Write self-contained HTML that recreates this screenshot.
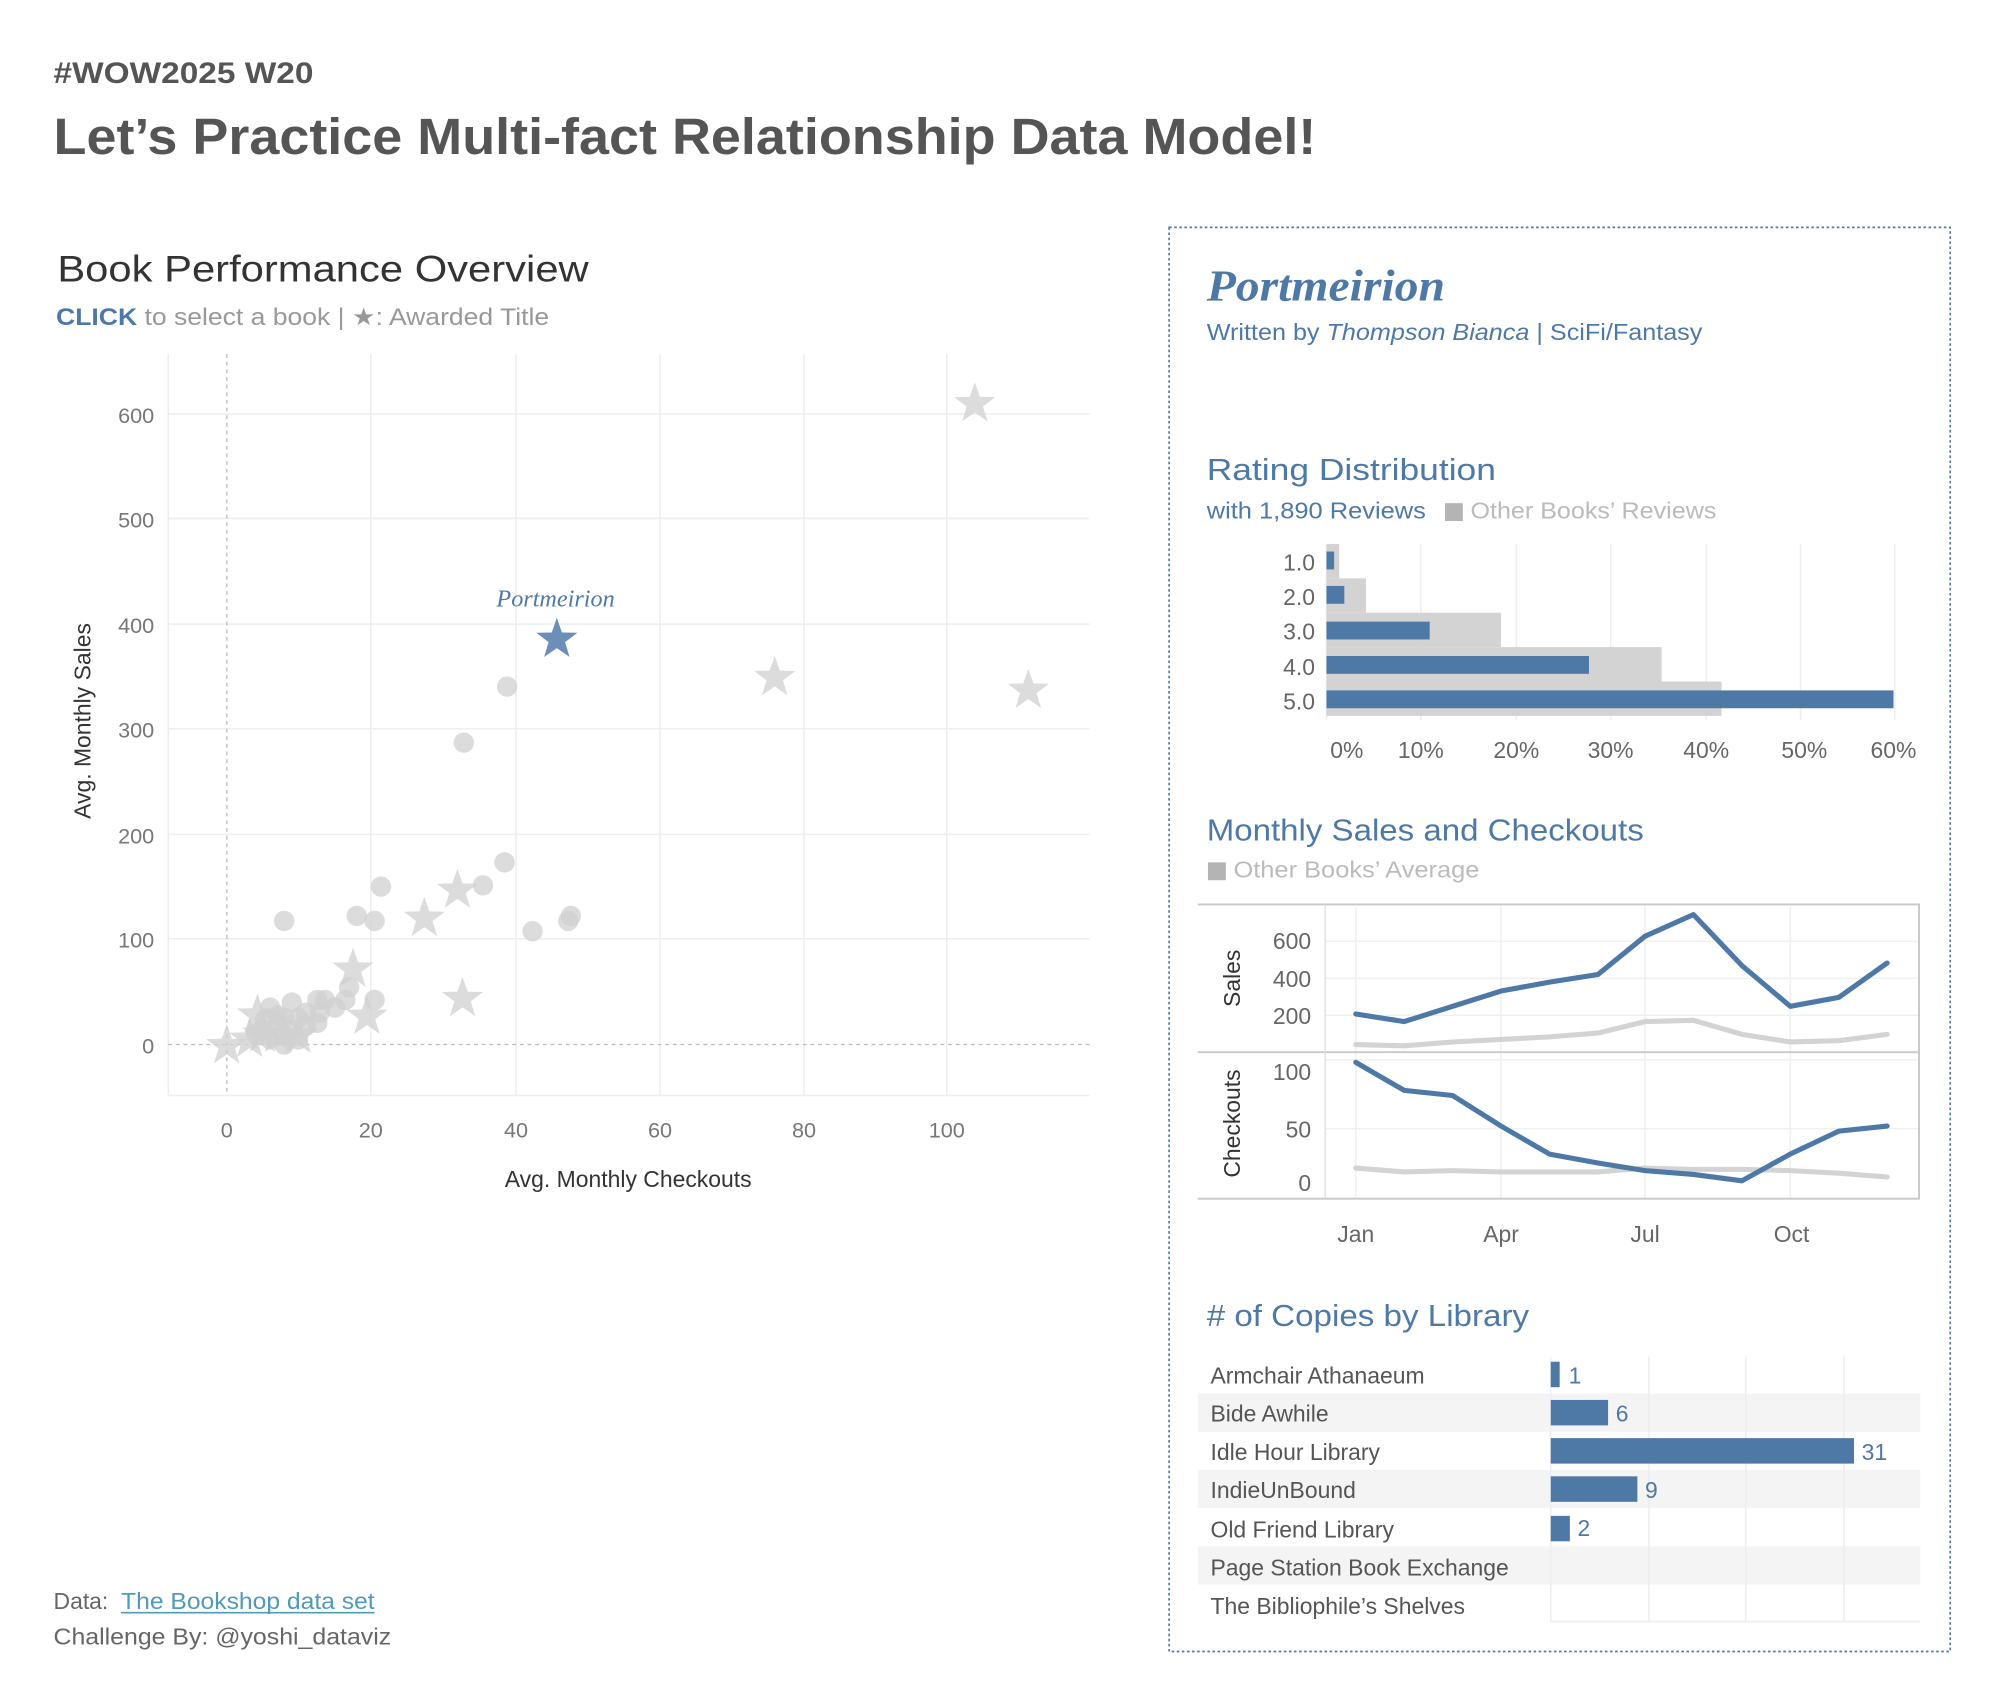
<!DOCTYPE html>
<html><head><meta charset="utf-8"><style>
html,body{margin:0;padding:0;background:#fff;}
svg{display:block;}
text{font-family:"Liberation Sans",sans-serif;}
</style></head><body>
<svg width="1998" height="1698" viewBox="0 0 1568 1333" preserveAspectRatio="none" xmlns="http://www.w3.org/2000/svg">
<defs>
<path id="st" d="M0,-1 L0.235,-0.324 0.951,-0.309 0.380,0.124 0.588,0.809 0,0.4 -0.588,0.809 -0.380,0.124 -0.951,-0.309 -0.235,-0.324Z"/>
</defs>
<rect width="1568" height="1333" fill="#fff"/>
<!-- header -->
<text x="42" y="65" font-size="23" font-weight="bold" fill="#555" textLength="204" lengthAdjust="spacingAndGlyphs">#WOW2025 W20</text>
<text x="42" y="121" font-size="40" font-weight="bold" fill="#555" textLength="991" lengthAdjust="spacingAndGlyphs">Let’s Practice Multi-fact Relationship Data Model!</text>

<!-- scatter -->
<text x="45" y="221" font-size="29" fill="#333" textLength="417" lengthAdjust="spacingAndGlyphs">Book Performance Overview</text>
<text x="44" y="255" font-size="19" fill="#999" textLength="387" lengthAdjust="spacingAndGlyphs"><tspan fill="#4e79a7" font-weight="bold">CLICK</tspan> to select a book | ★: Awarded Title</text>
<g stroke="#eeeeee" stroke-width="1.2">
<line x1="132" y1="278" x2="132" y2="860"/>
<line x1="291" y1="278" x2="291" y2="860"/>
<line x1="405" y1="278" x2="405" y2="860"/>
<line x1="518" y1="278" x2="518" y2="860"/>
<line x1="631" y1="278" x2="631" y2="860"/>
<line x1="743" y1="278" x2="743" y2="860"/>
<line x1="132" y1="325" x2="855" y2="325"/>
<line x1="132" y1="407" x2="855" y2="407"/>
<line x1="132" y1="490" x2="855" y2="490"/>
<line x1="132" y1="572" x2="855" y2="572"/>
<line x1="132" y1="655" x2="855" y2="655"/>
<line x1="132" y1="737" x2="855" y2="737"/>
<line x1="132" y1="860" x2="855" y2="860"/>
</g>
<line x1="178" y1="278" x2="178" y2="860" stroke="#bbb" stroke-dasharray="3,3"/>
<line x1="132" y1="820" x2="855" y2="820" stroke="#bbb" stroke-dasharray="3,3"/>
<g font-size="17" fill="#777" text-anchor="end">
<text x="121" y="332">600</text><text x="121" y="414">500</text><text x="121" y="497">400</text>
<text x="121" y="579">300</text><text x="121" y="662">200</text><text x="121" y="744">100</text><text x="121" y="827">0</text>
</g>
<g font-size="17" fill="#777" text-anchor="middle">
<text x="178" y="893">0</text><text x="291" y="893">20</text><text x="405" y="893">40</text>
<text x="518" y="893">60</text><text x="631" y="893">80</text><text x="743" y="893">100</text>
</g>
<text x="493" y="932" font-size="18" fill="#333" text-anchor="middle">Avg. Monthly Checkouts</text>
<text transform="translate(71,566) rotate(-90)" font-size="18" fill="#333" text-anchor="middle">Avg. Monthly Sales</text>
<g fill="#d0d0d0" fill-opacity="0.75">
<circle cx="398" cy="539" r="8"/><circle cx="364" cy="583" r="8"/><circle cx="299" cy="696" r="8"/>
<circle cx="396" cy="677" r="8"/><circle cx="379" cy="695" r="8"/><circle cx="223" cy="723" r="8"/>
<circle cx="280" cy="719" r="8"/><circle cx="294" cy="723" r="8"/><circle cx="418" cy="731" r="8"/>
<circle cx="446" cy="723" r="8"/><circle cx="448" cy="719" r="8"/><circle cx="271" cy="785" r="8"/>
<circle cx="274" cy="775" r="8"/><circle cx="294" cy="785" r="8"/><circle cx="249" cy="785" r="8"/>
<circle cx="255" cy="785" r="8"/><circle cx="229" cy="787" r="8"/><circle cx="212" cy="791" r="8"/>
<circle cx="249" cy="803" r="8"/><circle cx="251" cy="795" r="8"/><circle cx="223" cy="820" r="8"/>
<circle cx="206" cy="808" r="8"/><circle cx="218" cy="803" r="8"/><circle cx="223" cy="799" r="8"/>
<circle cx="229" cy="808" r="8"/><circle cx="234" cy="799" r="8"/><circle cx="240" cy="805" r="8"/>
<circle cx="212" cy="816" r="8"/><circle cx="218" cy="797" r="8"/><circle cx="201" cy="812" r="8"/>
<circle cx="223" cy="813" r="8"/><circle cx="234" cy="816" r="8"/><circle cx="240" cy="795" r="8"/>
<circle cx="263" cy="791" r="8"/><circle cx="208" cy="800" r="8"/>
<use href="#st" transform="translate(765,317) scale(17)"/>
<use href="#st" transform="translate(608,532) scale(17)"/>
<use href="#st" transform="translate(807,542) scale(17)"/>
<use href="#st" transform="translate(359,699) scale(17)"/>
<use href="#st" transform="translate(333,721) scale(17)"/>
<use href="#st" transform="translate(277,761) scale(17)"/>
<use href="#st" transform="translate(288,798) scale(17)"/>
<use href="#st" transform="translate(363,784) scale(17)"/>
<use href="#st" transform="translate(178,821) scale(17)"/>
<use href="#st" transform="translate(196,816) scale(17)"/>
<use href="#st" transform="translate(202,797) scale(17)"/>
<use href="#st" transform="translate(218,812) scale(17)"/>
<use href="#st" transform="translate(234,813) scale(17)"/>
<use href="#st" transform="translate(206,812) scale(17)"/>
</g>
<use href="#st" transform="translate(437,502) scale(17)" fill="#6b8fb8"/>
<text x="436" y="476" font-size="19" font-style="italic" fill="#4e79a7" text-anchor="middle" style="font-family:'Liberation Serif',serif">Portmeirion</text>

<!-- footer -->
<text x="42" y="1263" font-size="18" fill="#666">Data: </text>
<text x="95" y="1263" font-size="18" fill="#4f9bb8" textLength="199" lengthAdjust="spacingAndGlyphs">The Bookshop data set</text>
<line x1="95" y1="1266" x2="294" y2="1266" stroke="#4f9bb8" stroke-width="1.3"/>
<text x="42" y="1291" font-size="18" fill="#666" textLength="265" lengthAdjust="spacingAndGlyphs">Challenge By: @yoshi_dataviz</text>

<!-- right panel -->
<rect x="917.5" y="178.5" width="613" height="1118" fill="none" stroke="#4e79a7" stroke-width="1.3" stroke-dasharray="2,2"/>
<text x="947" y="236" font-size="35" font-weight="bold" font-style="italic" fill="#4e79a7" style="font-family:'Liberation Serif',serif" textLength="187" lengthAdjust="spacingAndGlyphs">Portmeirion</text>
<text x="947" y="267" font-size="18" fill="#4e79a7" textLength="389" lengthAdjust="spacingAndGlyphs">Written by <tspan font-style="italic">Thompson Bianca</tspan> | SciFi/Fantasy</text>

<text x="947" y="377" font-size="24" fill="#4e79a7" textLength="227" lengthAdjust="spacingAndGlyphs">Rating Distribution</text>
<text x="947" y="407" font-size="18" fill="#4e79a7" textLength="172" lengthAdjust="spacingAndGlyphs">with 1,890 Reviews</text>
<rect x="1134" y="395" width="14" height="14" fill="#b4b4b4"/>
<text x="1154" y="407" font-size="18" fill="#bbb" textLength="193" lengthAdjust="spacingAndGlyphs">Other Books’ Reviews</text>
<g stroke="#eeeeee" stroke-width="1.2">
<line x1="1041" y1="427" x2="1041" y2="565"/><line x1="1115" y1="427" x2="1115" y2="565"/>
<line x1="1190" y1="427" x2="1190" y2="565"/><line x1="1264" y1="427" x2="1264" y2="565"/>
<line x1="1339" y1="427" x2="1339" y2="565"/><line x1="1413" y1="427" x2="1413" y2="565"/>
<line x1="1487" y1="427" x2="1487" y2="565"/>
</g>
<g fill="#d3d3d3">
<rect x="1041" y="427" width="10" height="27"/><rect x="1041" y="454" width="31" height="27"/>
<rect x="1041" y="481" width="137" height="27"/><rect x="1041" y="508" width="263" height="27"/>
<rect x="1041" y="535" width="310" height="27"/>
</g>
<g fill="#4e79a7">
<rect x="1041" y="433" width="6" height="14"/><rect x="1041" y="460" width="14" height="14"/>
<rect x="1041" y="488" width="81" height="14"/><rect x="1041" y="515" width="206" height="14"/>
<rect x="1041" y="542" width="445" height="14"/>
</g>
<g font-size="18" fill="#666" text-anchor="end">
<text x="1032" y="448">1.0</text><text x="1032" y="475">2.0</text><text x="1032" y="502">3.0</text>
<text x="1032" y="530">4.0</text><text x="1032" y="557">5.0</text>
</g>
<g font-size="18" fill="#666" text-anchor="middle">
<text x="1057" y="595">0%</text><text x="1115" y="595">10%</text><text x="1190" y="595">20%</text>
<text x="1264" y="595">30%</text><text x="1339" y="595">40%</text><text x="1416" y="595">50%</text><text x="1486" y="595">60%</text>
</g>

<text x="947" y="660" font-size="24" fill="#4e79a7" textLength="343" lengthAdjust="spacingAndGlyphs">Monthly Sales and Checkouts</text>
<rect x="948" y="677" width="14" height="14" fill="#b4b4b4"/>
<text x="968" y="689" font-size="18" fill="#bbb" textLength="193" lengthAdjust="spacingAndGlyphs">Other Books’ Average</text>
<g stroke="#f0f0f0" stroke-width="1.2">
<line x1="1064" y1="712" x2="1064" y2="941"/><line x1="1178" y1="712" x2="1178" y2="941"/>
<line x1="1291" y1="712" x2="1291" y2="941"/><line x1="1405" y1="712" x2="1405" y2="941"/>
<line x1="1040" y1="739" x2="1506" y2="739"/><line x1="1040" y1="768" x2="1506" y2="768"/>
<line x1="1040" y1="797" x2="1506" y2="797"/>
<line x1="1040" y1="832" x2="1506" y2="832"/><line x1="1040" y1="886" x2="1506" y2="886"/>
</g>
<g fill="none" stroke="#c8c8c8" stroke-width="1.5">
<polyline points="940,710 1506,710 1506,941 940,941"/>
<line x1="940" y1="826" x2="1506" y2="826"/>
<line x1="1040" y1="710" x2="1040" y2="941" stroke="#ddd" stroke-width="1"/>
</g>
<g font-size="18" fill="#666" text-anchor="end">
<text x="1029" y="745">600</text><text x="1029" y="775">400</text><text x="1029" y="804">200</text>
<text x="1029" y="848">100</text><text x="1029" y="893">50</text><text x="1029" y="935">0</text>
</g>
<text transform="translate(973,768) rotate(-90)" font-size="18" fill="#333" text-anchor="middle">Sales</text>
<text transform="translate(973,882) rotate(-90)" font-size="18" fill="#333" text-anchor="middle">Checkouts</text>
<g fill="none" stroke-width="4" stroke-linejoin="round" stroke-linecap="round">
<polyline stroke="#d3d3d3" points="1064,820 1102,821 1140,818 1178,816 1216,814 1254,811 1291,802 1329,801 1367,812 1405,818 1443,817 1481,812"/>
<polyline stroke="#4e79a7" points="1064,796 1102,802 1140,790 1178,778 1216,771 1254,765 1291,735 1329,718 1367,758 1405,790 1443,783 1481,756"/>
<polyline stroke="#d3d3d3" points="1064,917 1102,920 1140,919 1178,920 1216,920 1254,920 1291,917 1329,918 1367,918 1405,919 1443,921 1481,924"/>
<polyline stroke="#4e79a7" points="1064,834 1102,856 1140,860 1178,884 1216,906 1254,913 1291,919 1329,922 1367,927 1405,906 1443,888 1481,884"/>
</g>
<g font-size="18" fill="#666" text-anchor="middle">
<text x="1064" y="975">Jan</text><text x="1178" y="975">Apr</text><text x="1291" y="975">Jul</text><text x="1406" y="975">Oct</text>
</g>

<text x="947" y="1041" font-size="24" fill="#4e79a7" textLength="253" lengthAdjust="spacingAndGlyphs"># of Copies by Library</text>
<g fill="#f4f4f4">
<rect x="940" y="1094" width="567" height="30"/><rect x="940" y="1154" width="567" height="30"/>
<rect x="940" y="1214" width="567" height="30"/>
</g>
<g stroke="#eeeeee" stroke-width="1.2">
<line x1="1217" y1="1065" x2="1217" y2="1273"/><line x1="1294" y1="1065" x2="1294" y2="1273"/>
<line x1="1370" y1="1065" x2="1370" y2="1273"/><line x1="1447" y1="1065" x2="1447" y2="1273"/>
<line x1="1217" y1="1273" x2="1507" y2="1273"/>
</g>
<g fill="#4e79a7">
<rect x="1217" y="1069" width="7" height="20"/><rect x="1217" y="1099" width="45" height="20"/>
<rect x="1217" y="1129" width="238" height="20"/><rect x="1217" y="1159" width="68" height="20"/>
<rect x="1217" y="1190" width="15" height="20"/>
</g>
<g font-size="18" fill="#4e79a7">
<text x="1231" y="1086">1</text><text x="1268" y="1116">6</text><text x="1461" y="1146">31</text>
<text x="1291" y="1176">9</text><text x="1238" y="1206">2</text>
</g>
<g font-size="18" fill="#555">
<text x="950" y="1086">Armchair Athanaeum</text>
<text x="950" y="1116">Bide Awhile</text>
<text x="950" y="1146">Idle Hour Library</text>
<text x="950" y="1176">IndieUnBound</text>
<text x="950" y="1207">Old Friend Library</text>
<text x="950" y="1237">Page Station Book Exchange</text>
<text x="950" y="1267">The Bibliophile’s Shelves</text>
</g>
</svg>
</body></html>
